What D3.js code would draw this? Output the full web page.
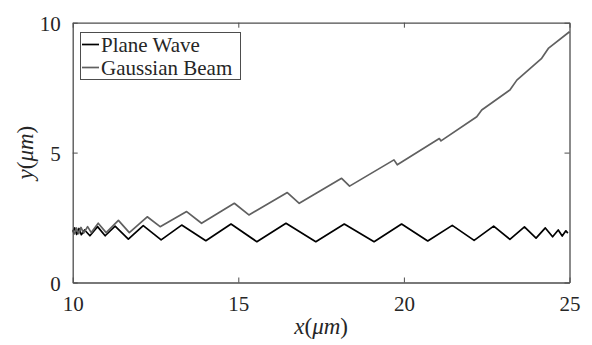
<!DOCTYPE html>
<html>
<head>
<meta charset="utf-8">
<script src="https://cdn.jsdelivr.net/npm/d3@7"></script>
<style>
  body { margin: 0; background: #fff; }
  svg { display: block; }
  svg text { font-family: "Liberation Serif", "Times New Roman", Times, "DejaVu Serif", "Noto Serif", serif; fill: #262626; }
</style>
</head>
<body>
<svg id="chart" width="592" height="345"></svg>
<script>
// data
const planeX = [10.0, 10.06, 10.12, 10.19, 10.26, 10.36, 10.52, 10.75, 10.98, 11.28, 11.68, 12.13, 12.67, 13.29, 14.02, 14.78, 15.56,
  16.44, 17.34, 18.2, 19.1, 19.93, 20.72, 21.46, 22.12, 22.71, 23.2, 23.64, 23.99, 24.27, 24.49, 24.66, 24.78, 24.89, 24.95];
const planeY = [1.96, 2.1, 1.85, 2.08, 1.84, 2.02, 1.8, 2.15, 1.8, 2.17, 1.67, 2.19, 1.64, 2.21, 1.61, 2.25, 1.57,
  2.28, 1.57, 2.25, 1.57, 2.25, 1.6, 2.2, 1.62, 2.17, 1.66, 2.14, 1.71, 2.1, 1.76, 2.02, 1.79, 1.99, 1.9];

const gaussX = [10.0, 10.05, 10.11, 10.18, 10.25, 10.33, 10.45, 10.56, 10.77, 11.01, 11.38, 11.71, 12.25, 12.64, 13.44, 13.89, 14.88, 15.32,
  16.48, 16.84, 18.12, 18.36, 19.7, 19.8, 21.07, 21.12, 22.2, 22.35, 23.2, 23.41, 24.16, 24.36, 25.0];
const gaussY = [1.99, 1.87, 2.1, 1.88, 2.12, 1.9, 2.15, 1.92, 2.28, 1.92, 2.39, 1.92, 2.53, 2.15, 2.73, 2.28, 3.05, 2.6,
  3.46, 3.05, 4.01, 3.71, 4.72, 4.53, 5.54, 5.45, 6.38, 6.64, 7.41, 7.79, 8.63, 9.01, 9.65];

const xTicks = [10, 15, 20, 25];
const yTicks = [0, 5, 10];

const seriesNames = ["Plane Wave", "Gaussian Beam"];
const seriesColors = ["#000000", "#606060"];

const margin = { left: 72.7, right: 22.5, top: 22.7, bottom: 62.5 };
const W = 592, H = 345;

const svg = d3.select("#chart");
const x = d3.scaleLinear().domain([10, 25]).range([margin.left, W - margin.right]);
const y = d3.scaleLinear().domain([0, 10]).range([H - margin.bottom, margin.top]);

const axisColor = "#4d4d4d";

// data lines
const series = [
  planeX.map((v, i) => [v, planeY[i]]),
  gaussX.map((v, i) => [v, gaussY[i]])
];
const line = d3.line().x(d => x(d[0])).y(d => y(d[1]));

svg.selectAll(".series")
  .data(series)
  .enter()
  .append("path")
  .attr("class", "series")
  .attr("d", d => line(d))
  .attr("fill", "none")
  .attr("stroke", (d, i) => seriesColors[i])
  .attr("stroke-width", 1.7)
  .attr("stroke-linejoin", "round");

// axes: ticks inside the box, box on all sides
const axBottom = svg.append("g").attr("transform", `translate(0,${y(0)})`)
  .call(d3.axisBottom(x).tickValues(xTicks).tickSizeInner(-5).tickSizeOuter(0).tickPadding(10).tickFormat(d3.format("d")));
const axTop = svg.append("g").attr("transform", `translate(0,${y(10)})`)
  .call(d3.axisTop(x).tickValues(xTicks).tickSizeInner(-5).tickSizeOuter(0).tickFormat(""));
const axLeft = svg.append("g").attr("transform", `translate(${x(10)},0)`)
  .call(d3.axisLeft(y).tickValues(yTicks).tickSizeInner(-5).tickSizeOuter(0).tickPadding(12).tickFormat(d3.format("d")));
const axRight = svg.append("g").attr("transform", `translate(${x(25)},0)`)
  .call(d3.axisRight(y).tickValues(yTicks).tickSizeInner(-5).tickSizeOuter(0).tickFormat(""));

[axBottom, axTop, axLeft, axRight].forEach(g => {
  g.attr("font-family", null);
  g.select(".domain").attr("stroke", axisColor).attr("stroke-width", 1.3);
  g.selectAll(".tick line").attr("stroke", axisColor).attr("stroke-width", 1);
  g.selectAll("text")
    .style("font-size", "21px")
    .attr("fill", "#262626");
});
axBottom.selectAll("text").attr("dy", "0.9em");
axLeft.selectAll("text").attr("dy", "0.36em");

// axis labels
svg.append("text")
  .attr("x", (x(10) + x(25)) / 2)
  .attr("y", 334)
  .attr("text-anchor", "middle")
  .style("font-size", "23px")
  .html('<tspan font-style="italic">x</tspan>(<tspan font-style="italic">μm</tspan>)');

svg.append("text")
  .attr("transform", `translate(33,${(y(0) + y(10)) / 2}) rotate(-90)`)
  .attr("text-anchor", "middle")
  .style("font-size", "23px")
  .html('<tspan font-style="italic">y</tspan>(<tspan font-style="italic">μm</tspan>)');

// legend
const legend = svg.append("g");
legend.append("rect")
  .attr("x", 80.5).attr("y", 32.5)
  .attr("width", 160).attr("height", 47)
  .attr("fill", "#fff")
  .attr("stroke", axisColor)
  .attr("stroke-width", 1);

const items = legend.selectAll(".item")
  .data(seriesNames)
  .enter()
  .append("g")
  .attr("class", "item")
  .attr("transform", (d, i) => `translate(0,${44.5 + i * 23})`);

items.append("line")
  .attr("x1", 82).attr("x2", 99)
  .attr("stroke", (d, i) => seriesColors[i])
  .attr("stroke-width", 1.7);

items.append("text")
  .attr("x", 101)
  .attr("y", 7.5)
  .style("font-size", "21px")
  .text(d => d);
</script>
</body>
</html>
